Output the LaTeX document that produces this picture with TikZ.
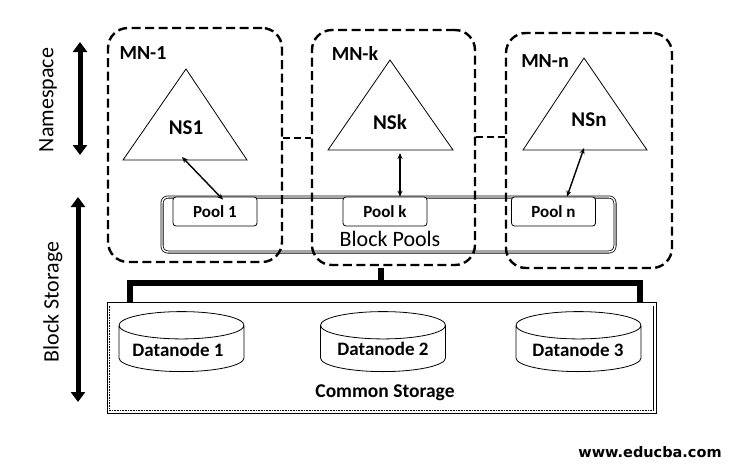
\documentclass[tikz,border=0pt]{standalone}
\usepackage{fontspec}
\setmainfont{Carlito}
\newfontfamily\webfont{DejaVu Sans}
\usetikzlibrary{shapes.geometric,arrows.meta,positioning}

\begin{document}
\begin{tikzpicture}[x=1pt, y=-1pt, >=Stealth, semithick,
    mnbox/.style={draw, line width=2.4pt, dash pattern=on 9pt off 4.5pt, rounded corners=20pt, inner sep=0pt},
    mnlabel/.style={font=\fontsize{20}{24}\selectfont\bfseries, inner sep=0pt},
    nslabel/.style={font=\fontsize{21}{24}\selectfont\bfseries, inner sep=0pt},
    tri/.style={draw, line width=0.8pt},
    pool/.style={draw, fill=white, rounded corners=3pt, line width=0.8pt, minimum width=84pt, minimum height=29pt, inner sep=0pt, font=\fontsize{17}{20}\selectfont\bfseries},
    disk/.style={cylinder, shape border rotate=90, draw, line width=0.8pt, aspect=0.3, minimum width=125pt, minimum height=60pt, inner sep=0pt, anchor=south, font=\fontsize{19}{22}\selectfont\bfseries},
    disklabel/.style={font=\fontsize{19}{22}\selectfont\bfseries, inner sep=0pt},
    biarrow/.style={line width=1.4pt, {Stealth[length=6pt,width=5pt]}-{Stealth[length=6pt,width=5pt]}},
    link/.style={line width=1.8pt, dash pattern=on 7pt off 4pt},
    bus/.style={line width=6pt, line join=miter},
    layerarrow/.style={line width=5pt, {Triangle[width=14pt,length=10pt]}-{Triangle[width=14pt,length=10pt]}},
    sidelabel/.style={rotate=90, font=\fontsize{22}{26}\selectfont, inner sep=0pt}]

    \fill[white] (0,0) rectangle (731,466);
    \useasboundingbox (0,0) rectangle (731,466);

    % layers on the left
    \node[sidelabel] (nslab) at (48,100) {Namespace};
    \node[sidelabel] (bslab) at (53,302) {Block Storage};
    \coordinate (nstop) at (80,42);
    \coordinate (nsbot) at (80,155);
    \coordinate (bstop) at (78,197);
    \coordinate (bsbot) at (78,402);
    \draw[layerarrow] (nstop) -- (nsbot);
    \draw[layerarrow] (bstop) -- (bsbot);

    % block pools
    \node[draw, double, double distance=1.4pt, line width=0.8pt, rounded corners=6pt, minimum width=453pt, minimum height=55pt] (pools) at (388.5,224.5) {};
    \node[font=\fontsize{22}{26}\selectfont, inner sep=0pt] (poolstext) at (390,239) {Block Pools};
    \node[pool] (pool1) at (215,211.5) {Pool 1};
    \node[pool] (poolk) at (385,211.5) {Pool k};
    \node[pool] (pooln) at (553.5,211.5) {Pool n};

    % name nodes
    \node[mnbox, minimum width=174pt, minimum height=234pt] (mn1) at (195,145) {};
    \node[mnbox, minimum width=163pt, minimum height=235pt] (mnk) at (393.5,147.5) {};
    \node[mnbox, minimum width=166pt, minimum height=235pt] (mnn) at (589,150.5) {};
    \node[mnlabel] (mn1text) at (143,53.5) {MN-1};
    \node[mnlabel] (mnktext) at (355,53.5) {MN-k};
    \node[mnlabel] (mnntext) at (545,61) {MN-n};

    % namespaces
    \draw[tri] (123,160) -- (186,69) -- (247,160) -- cycle;
    \draw[tri] (328,150) -- (390,60) -- (453,150) -- cycle;
    \draw[tri] (523,150) -- (584,58) -- (647,150) -- cycle;
    \node[nslabel] (ns1) at (186,128) {NS1};
    \node[nslabel] (nsk) at (390,122) {NSk};
    \node[nslabel] (nsn) at (589,119.5) {NSn};
    \coordinate (ns1base) at (182,157);
    \coordinate (nskbase) at (400,153);
    \coordinate (nsnbase) at (584,148);

    \path
        (ns1base) edge[biarrow] ([xshift=8pt,yshift=-3pt]pool1.north)
        (nskbase) edge[biarrow] ([xshift=15pt]poolk.north)
        (nsnbase) edge[biarrow] ([xshift=13.5pt]pooln.north)
        ([yshift=7pt]mn1.east) edge[link] ([yshift=7pt]mn1.east -| mnk.west)
        ([yshift=10.5pt]mnk.east) edge[link] ([yshift=10.5pt]mnk.east -| mnn.west);

    % common storage
    \node[draw, line width=0.8pt, minimum width=549pt, minimum height=111pt, inner sep=0pt] (storage) at (381.5,357.5) {};
    \draw[densely dotted, line width=0.6pt] ([xshift=3pt,yshift=-4pt]storage.north west) -- ([xshift=3pt,yshift=3pt]storage.south west) -- ([xshift=-3pt,yshift=3pt]storage.south east);
    \draw[line width=0.6pt] ([xshift=-3pt,yshift=-4pt]storage.north east) -- ([xshift=-3pt,yshift=3pt]storage.south east);
    \node[disk] (dn1) at (181.5,372) {\phantom{Datanode 1}};
    \node[disk] (dn2) at (383,372) {\phantom{Datanode 2}};
    \node[disk] (dn3) at (578.5,372) {\phantom{Datanode 3}};
    \node[disklabel] (dn1text) at (178,350) {Datanode 1};
    \node[disklabel] (dn2text) at (383,349) {Datanode 2};
    \node[disklabel] (dn3text) at (578,350) {Datanode 3};
    \node[font=\fontsize{19.5}{22}\selectfont\bfseries, inner sep=0pt] (stortext) at (385,393) {Common Storage};

    % bus
    \coordinate (busL) at (129.5,283);
    \coordinate (busR) at (640,283);
    \draw[bus] ([xshift=-12.5pt,yshift=-1.5pt]mnk.south) -- ([xshift=-12.5pt]mnk.south |- busL);
    \draw[bus] (storage.north -| busL) -- (busL) -- (busR) -- (storage.north -| busR);

    \node[font=\webfont\fontsize{14.5}{17}\selectfont\bfseries, inner sep=0pt] (web) at (650,452) {www.educba.com};

\end{tikzpicture}
\end{document}
